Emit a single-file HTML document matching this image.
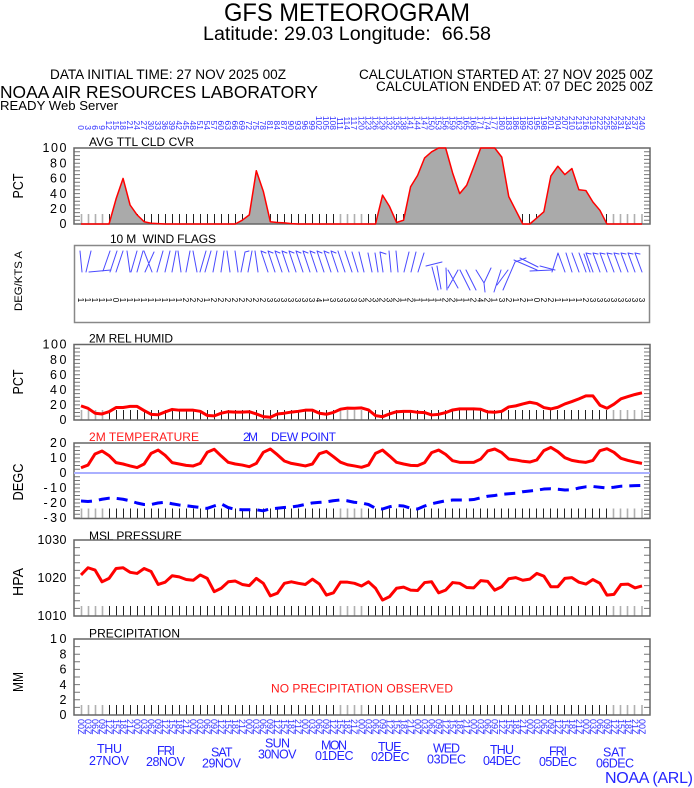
<!DOCTYPE html>
<html><head><meta charset="utf-8"><style>html,body{margin:0;padding:0;background:#fff}svg{display:block}</style></head>
<body>
<svg width="694" height="788" viewBox="0 0 694 788" xmlns="http://www.w3.org/2000/svg" font-family="'Liberation Sans', Arial, sans-serif">
<rect width="694" height="788" fill="#fff"/>
<defs>
<g id="tk" stroke-width="1">
<path stroke="#222" d="M109.5 0v-10M116.5 0v-10M123.5 0v-10M130.5 0v-10M137.5 0v-10M144.5 0v-10M151.5 0v-10M158.5 0v-10M165.5 0v-10M172.5 0v-10M179.5 0v-10M186.5 0v-10M193.5 0v-10M200.5 0v-10M207.5 0v-10M214.5 0v-10M221.5 0v-10M228.5 0v-10M235.5 0v-10M242.5 0v-10M249.5 0v-10M256.5 0v-10M263.5 0v-10M270.5 0v-10M277.5 0v-10M284.5 0v-10M291.5 0v-10M298.5 0v-10M305.5 0v-10M312.5 0v-10M319.5 0v-10M326.5 0v-10M333.5 0v-10M368.5 0v-10M375.5 0v-10M382.5 0v-10M389.5 0v-10M396.5 0v-10M403.5 0v-10M410.5 0v-10M417.5 0v-10M424.5 0v-10M431.5 0v-10M438.5 0v-10M445.5 0v-10M452.5 0v-10M459.5 0v-10M466.5 0v-10M473.5 0v-10M480.5 0v-10M487.5 0v-10M494.5 0v-10M501.5 0v-10M508.5 0v-10M515.5 0v-10M522.5 0v-10M529.5 0v-10M536.5 0v-10M543.5 0v-10M550.5 0v-10M557.5 0v-10M564.5 0v-10M571.5 0v-10M578.5 0v-10M585.5 0v-10M592.5 0v-10M599.5 0v-10M606.5 0v-10"/>
<path stroke="#b0b0b0" stroke-width="1.6" d="M81.5 0v-10M88.5 0v-10M95.5 0v-10M102.5 0v-10M340.5 0v-10M347.5 0v-10M354.5 0v-10M361.5 0v-10M613.5 0v-10M620.5 0v-10M627.5 0v-10M634.5 0v-10M642 0v-10"/>
</g>
</defs>

<!-- Header -->
<text x="224" y="21" font-size="25" textLength="246" lengthAdjust="spacingAndGlyphs">GFS METEOROGRAM</text>
<text x="203" y="40" font-size="19" textLength="288" lengthAdjust="spacingAndGlyphs">Latitude: 29.03 Longitude:&#160;&#160;66.58</text>
<text x="50" y="79" font-size="13.5" textLength="236" lengthAdjust="spacingAndGlyphs">DATA INITIAL TIME: 27 NOV 2025 00Z</text>
<text x="359" y="79" font-size="13.5" textLength="294" lengthAdjust="spacingAndGlyphs">CALCULATION STARTED AT: 27 NOV 2025 00Z</text>
<text x="376" y="91" font-size="13.5" textLength="277" lengthAdjust="spacingAndGlyphs">CALCULATION ENDED AT: 07 DEC 2025 00Z</text>
<text x="0" y="98" font-size="17.5" textLength="318" lengthAdjust="spacingAndGlyphs">NOAA AIR RESOURCES LABORATORY</text>
<text x="0" y="110" font-size="13" textLength="118" lengthAdjust="spacingAndGlyphs">READY Web Server</text>

<!-- Top hour labels -->
<g font-size="8.5" fill="#3030ff" text-anchor="end">
<text transform="translate(78,130)rotate(90)">0</text><text transform="translate(85,130)rotate(90)">3</text><text transform="translate(92,130)rotate(90)">6</text><text transform="translate(99,130)rotate(90)">9</text><text transform="translate(106,130)rotate(90)">12</text><text transform="translate(113,130)rotate(90)">15</text><text transform="translate(120,130)rotate(90)">18</text><text transform="translate(127,130)rotate(90)">21</text><text transform="translate(134,130)rotate(90)">24</text><text transform="translate(141,130)rotate(90)">27</text><text transform="translate(148,130)rotate(90)">30</text><text transform="translate(155,130)rotate(90)">33</text><text transform="translate(162,130)rotate(90)">36</text><text transform="translate(169,130)rotate(90)">39</text><text transform="translate(176,130)rotate(90)">42</text><text transform="translate(183,130)rotate(90)">45</text><text transform="translate(190,130)rotate(90)">48</text><text transform="translate(197,130)rotate(90)">51</text><text transform="translate(204,130)rotate(90)">54</text><text transform="translate(211,130)rotate(90)">57</text><text transform="translate(218,130)rotate(90)">60</text><text transform="translate(225,130)rotate(90)">63</text><text transform="translate(232,130)rotate(90)">66</text><text transform="translate(239,130)rotate(90)">69</text><text transform="translate(246,130)rotate(90)">72</text><text transform="translate(253,130)rotate(90)">75</text><text transform="translate(260,130)rotate(90)">78</text><text transform="translate(267,130)rotate(90)">81</text><text transform="translate(274,130)rotate(90)">84</text><text transform="translate(281,130)rotate(90)">87</text><text transform="translate(288,130)rotate(90)">90</text><text transform="translate(295,130)rotate(90)">93</text><text transform="translate(302,130)rotate(90)">96</text><text transform="translate(309,130)rotate(90)">99</text><text transform="translate(316,130)rotate(90)">102</text><text transform="translate(323,130)rotate(90)">105</text><text transform="translate(330,130)rotate(90)">108</text><text transform="translate(337,130)rotate(90)">111</text><text transform="translate(344,130)rotate(90)">114</text><text transform="translate(351,130)rotate(90)">117</text><text transform="translate(358.5,130)rotate(90)">120</text><text transform="translate(365.5,130)rotate(90)">123</text><text transform="translate(372.5,130)rotate(90)">126</text><text transform="translate(379.5,130)rotate(90)">129</text><text transform="translate(386.5,130)rotate(90)">132</text><text transform="translate(393.6,130)rotate(90)">135</text><text transform="translate(400.6,130)rotate(90)">138</text><text transform="translate(407.6,130)rotate(90)">141</text><text transform="translate(414.6,130)rotate(90)">144</text><text transform="translate(421.6,130)rotate(90)">147</text><text transform="translate(428.6,130)rotate(90)">150</text><text transform="translate(435.6,130)rotate(90)">153</text><text transform="translate(442.7,130)rotate(90)">156</text><text transform="translate(449.7,130)rotate(90)">159</text><text transform="translate(456.7,130)rotate(90)">162</text><text transform="translate(463.7,130)rotate(90)">165</text><text transform="translate(470.7,130)rotate(90)">168</text><text transform="translate(477.7,130)rotate(90)">171</text><text transform="translate(484.7,130)rotate(90)">174</text><text transform="translate(491.7,130)rotate(90)">177</text><text transform="translate(498.8,130)rotate(90)">180</text><text transform="translate(505.8,130)rotate(90)">183</text><text transform="translate(512.8,130)rotate(90)">186</text><text transform="translate(519.8,130)rotate(90)">189</text><text transform="translate(526.8,130)rotate(90)">192</text><text transform="translate(533.8,130)rotate(90)">195</text><text transform="translate(540.8,130)rotate(90)">198</text><text transform="translate(547.8,130)rotate(90)">201</text><text transform="translate(554.9,130)rotate(90)">204</text><text transform="translate(561.9,130)rotate(90)">207</text><text transform="translate(568.9,130)rotate(90)">210</text><text transform="translate(575.9,130)rotate(90)">213</text><text transform="translate(582.9,130)rotate(90)">216</text><text transform="translate(589.9,130)rotate(90)">219</text><text transform="translate(596.9,130)rotate(90)">222</text><text transform="translate(603.9,130)rotate(90)">225</text><text transform="translate(611,130)rotate(90)">228</text><text transform="translate(618,130)rotate(90)">231</text><text transform="translate(625,130)rotate(90)">234</text><text transform="translate(632,130)rotate(90)">237</text><text transform="translate(639,130)rotate(90)">240</text>
</g>

<!-- Y axis titles -->
<g font-size="15" text-anchor="middle">
<text transform="translate(23,186)rotate(-90)" textLength="25" lengthAdjust="spacingAndGlyphs">PCT</text>
<text transform="translate(22,281)rotate(-90)" font-size="11" textLength="60" lengthAdjust="spacingAndGlyphs">DEG/KTS A</text>
<text transform="translate(23,382)rotate(-90)" textLength="25" lengthAdjust="spacingAndGlyphs">PCT</text>
<text transform="translate(23,482)rotate(-90)" textLength="37" lengthAdjust="spacingAndGlyphs">DEGC</text>
<text transform="translate(23,582)rotate(-90)" textLength="28" lengthAdjust="spacingAndGlyphs">HPA</text>
<text transform="translate(23,682)rotate(-90)" textLength="20" lengthAdjust="spacingAndGlyphs">MM</text>
</g>

<!-- Y tick labels -->
<g font-size="12.5" text-anchor="end" lengthAdjust="spacingAndGlyphs">
<text x="66.5" y="152.2" textLength="24">100</text><text x="66.5" y="167.4" textLength="16.5">80</text><text x="66.5" y="182.6" textLength="16.5">60</text><text x="66.5" y="197.8" textLength="16.5">40</text><text x="66.5" y="213" textLength="16.5">20</text><text x="66.5" y="228.2" textLength="8.5">0</text>
<text x="66.5" y="348.7" textLength="24">100</text><text x="66.5" y="363.8" textLength="16.5">80</text><text x="66.5" y="378.9" textLength="16.5">60</text><text x="66.5" y="394" textLength="16.5">40</text><text x="66.5" y="409.1" textLength="16.5">20</text><text x="66.5" y="424.2" textLength="8.5">0</text>
<text x="66.5" y="447.2" textLength="16.5">20</text><text x="66.5" y="462.2" textLength="16.5">10</text><text x="66.5" y="477.2" textLength="8.5">0</text><text x="66.5" y="492.2" textLength="23">-10</text><text x="66.5" y="507.2" textLength="23">-20</text><text x="66.5" y="522.2" textLength="23">-30</text>
<text x="66.5" y="544.2" textLength="29">1030</text><text x="66.5" y="582.2" textLength="29">1020</text><text x="66.5" y="620.2" textLength="29">1010</text>
<text x="66.5" y="643.2" textLength="16.5">10</text><text x="66.5" y="658.4" textLength="8.5">8</text><text x="66.5" y="673.6" textLength="8.5">6</text><text x="66.5" y="688.8" textLength="8.5">4</text><text x="66.5" y="704" textLength="8.5">2</text><text x="66.5" y="719.2" textLength="8.5">0</text>
</g>

<!-- Panel titles -->
<g font-size="12" lengthAdjust="spacingAndGlyphs">
<text x="89" y="146" textLength="105">AVG TTL CLD CVR</text>
<text x="110" y="243" textLength="106">10 M&#160;&#160;WIND FLAGS</text>
<text x="89" y="342.7" textLength="84">2M REL HUMID</text>
<text x="89" y="441" textLength="110" fill="#ff1a1a">2M TEMPERATURE</text>
<text x="243" y="441" textLength="15" fill="#2222ff">2M</text>
<text x="271" y="441" textLength="65" fill="#2222ff">DEW POINT</text>
<text x="89" y="540" textLength="93">MSL PRESSURE</text>
<text x="89" y="637.7" textLength="91">PRECIPITATION</text>
<text x="271" y="692.7" textLength="182" fill="#ff1a1a">NO PRECIPITATION OBSERVED</text>
</g>

<!-- bottom ticks -->
<use href="#tk" transform="translate(0,224)"/>
<use href="#tk" transform="translate(0,420)"/>
<use href="#tk" transform="translate(0,518.5)"/>
<use href="#tk" transform="translate(0,616)"/>
<use href="#tk" transform="translate(0,715)"/>

<!-- side minor ticks -->
<g stroke="#777" stroke-width="6" fill="none">
<line x1="77" y1="147.5" x2="77" y2="225" stroke-dasharray="1 2.8"/>
<line x1="647" y1="147.5" x2="647" y2="225" stroke-dasharray="1 2.8"/>
<line x1="77" y1="344" x2="77" y2="421" stroke-dasharray="1 2.775"/>
<line x1="647" y1="344" x2="647" y2="421" stroke-dasharray="1 2.775"/>
<line x1="77" y1="442.5" x2="77" y2="519" stroke-dasharray="1 2.75"/>
<line x1="647" y1="442.5" x2="647" y2="519" stroke-dasharray="1 2.75"/>
<line x1="77" y1="539.5" x2="77" y2="617" stroke-dasharray="1 6.6"/>
<line x1="647" y1="539.5" x2="647" y2="617" stroke-dasharray="1 6.6"/>
<line x1="77" y1="638.5" x2="77" y2="716" stroke-dasharray="1 6.6"/>
<line x1="647" y1="638.5" x2="647" y2="716" stroke-dasharray="1 6.6"/>
</g>

<!-- Cloud panel data -->
<g transform="translate(81,224) scale(7.0125,-0.76)">
<polygon fill="#aaaaaa" points="0,0 1,0 2,0 3,0 4,0 5,33 6,60 7,25 8,12 9,3 10,1 11,0.5 12,0 22,0 23,5 24,12 25,70 26,43 27,3 28,2 29,1.5 30,0.5 31,0 42,0 43,38 44,23 45,2 46,5 47,49 48,64 49,87 50,95 51,100 52,100 53,67 54,40 55,51 56,75 57,100 58,100 59,100 60,88 61,36 62,18 63,0 64,0 65,8 66,16 67,63 68,76 69,65 70,73 71,45 72,44 73,29 74,18 75,0 80,0"/>
</g>

<!-- Frames -->
<g fill="none" stroke="#666" stroke-width="1.5">
<path d="M74 148H650V224H74Z"/>
<rect x="74.5" y="245.5" width="575" height="77" stroke="#888"/>
<path d="M74 344.5H650V420H74Z"/>
<path d="M74 443H650V518.5H74Z"/>
<path d="M74 540H650V616H74Z"/>
<path d="M74 639H650V715H74Z"/>
</g>

<g transform="translate(81,224) scale(7.0125,-0.76)">
<polyline fill="none" stroke="#ff0000" stroke-width="1.5" vector-effect="non-scaling-stroke" stroke-linejoin="round" points="0,0 1,0 2,0 3,0 4,0 5,33 6,60 7,25 8,12 9,3 10,1 11,0.5 12,0 22,0 23,5 24,12 25,70 26,43 27,3 28,2 29,1.5 30,0.5 31,0 42,0 43,38 44,23 45,2 46,5 47,49 48,64 49,87 50,95 51,100 52,100 53,67 54,40 55,51 56,75 57,100 58,100 59,100 60,88 61,36 62,18 63,0 64,0 65,8 66,16 67,63 68,76 69,65 70,73 71,45 72,44 73,29 74,18 75,0 80,0"/>
</g>

<!-- Wind barbs -->
<g stroke="#4a4aff" stroke-width="1" fill="none" stroke-linecap="round">
<path d="M82 272L80 251M86 272L91 251M89 272L111 270M103 271L110 251M110 272L117 251M116 272L123 251M127 251L130 272M131 272L137 251M137 272L143 251M144 251L152 272M145 272L154 252M157 272L163 251M165 272L170 251M172 272L176 251M178 251L181 272M186 272L190 251M193 251L197 272M200 272L206 251M205 272L211 251M213 272L217 251M221 272L224 251M227 251L230 272M235 251L238 272M241 272L245 252l4 -1M248 272L252 251M255 251L258 272"/>
<path d="M261 251L268 272M261 251l5 2M268 251L275 272M268 251l5 2M275 251L282 272M275 251l5 2M282 251L289 272M282 251l5 2M289 251L296 272M289 251l5 2M296 251L303 272M296 251l5 2M303 251L310 272M303 251l5 2M310 251L317 272M310 251l5 2M317 251L324 272M317 251l5 2M324 251L331 272M324 251l5 2M331 251L338 272M331 251l5 2M338 251L345 272M345 251L352 272M352 252L358 272M359 252L364 272"/>
<path d="M368 253L372 272M375 253L378 272M380 252L383 272M380 252l6 2M389 251L391 272M396 251L398 272M404 272L409 252M411 272L416 252M418 272L424 253M426 266L442 262M432 267L438 290M437 266L441 289M446 268L447 290M448 270L458 288M458 270L448 288M460 270L470 290M466 270L476 290M476 270L484 283L491 268M484 283L485 292M494 292L501 270M497 285L508 270M503 290L515 262L526 258M514 260L537 270M520 258L538 267M530 271L552 270M540 266L555 270"/>
<path d="M552 272L558 253M558 253L565 272M566 253L572 272M572 253L579 272M579 253L586 272M584 254L590 272M586 253L593 272M586 253l5 1M593 253L600 272M593 253l5 1M600 253L607 272M600 253l5 1M607 253L614 272M607 253l5 1M614 253L621 272M614 253l5 1M621 253L628 272M621 253l5 1M628 253L635 272M628 253l5 1M635 253L642 272M635 253l5 1"/>
</g>

<!-- Wind speed row -->
<g font-size="8" fill="#000" text-anchor="middle">
<text transform="translate(78,300)rotate(90)">1</text><text transform="translate(85,300)rotate(90)">1</text><text transform="translate(92,300)rotate(90)">1</text><text transform="translate(99,300)rotate(90)">1</text><text transform="translate(106,300)rotate(90)">1</text><text transform="translate(113,300)rotate(90)">0</text><text transform="translate(120,300)rotate(90)">1</text><text transform="translate(127,300)rotate(90)">1</text><text transform="translate(134,300)rotate(90)">1</text><text transform="translate(141,300)rotate(90)">1</text><text transform="translate(148,300)rotate(90)">1</text><text transform="translate(155,300)rotate(90)">1</text><text transform="translate(162,300)rotate(90)">1</text><text transform="translate(169,300)rotate(90)">1</text><text transform="translate(176,300)rotate(90)">1</text><text transform="translate(183,300)rotate(90)">2</text><text transform="translate(190,300)rotate(90)">2</text><text transform="translate(197,300)rotate(90)">2</text><text transform="translate(204,300)rotate(90)">1</text><text transform="translate(211,300)rotate(90)">2</text><text transform="translate(218,300)rotate(90)">2</text><text transform="translate(225,300)rotate(90)">2</text><text transform="translate(232,300)rotate(90)">2</text><text transform="translate(239,300)rotate(90)">2</text><text transform="translate(246,300)rotate(90)">2</text><text transform="translate(253,300)rotate(90)">2</text><text transform="translate(260,300)rotate(90)">2</text><text transform="translate(267,300)rotate(90)">3</text><text transform="translate(274,300)rotate(90)">3</text><text transform="translate(281,300)rotate(90)">3</text><text transform="translate(288,300)rotate(90)">3</text><text transform="translate(295,300)rotate(90)">3</text><text transform="translate(302,300)rotate(90)">3</text><text transform="translate(309,300)rotate(90)">3</text><text transform="translate(316,300)rotate(90)">4</text><text transform="translate(323,300)rotate(90)">1</text><text transform="translate(330,300)rotate(90)">3</text><text transform="translate(337,300)rotate(90)">3</text><text transform="translate(344,300)rotate(90)">3</text><text transform="translate(351,300)rotate(90)">3</text><text transform="translate(358.5,300)rotate(90)">3</text><text transform="translate(365.5,300)rotate(90)">2</text><text transform="translate(372.5,300)rotate(90)">3</text><text transform="translate(379.5,300)rotate(90)">2</text><text transform="translate(386.5,300)rotate(90)">3</text><text transform="translate(393.6,300)rotate(90)">2</text><text transform="translate(400.6,300)rotate(90)">1</text><text transform="translate(407.6,300)rotate(90)">2</text><text transform="translate(414.6,300)rotate(90)">1</text><text transform="translate(421.6,300)rotate(90)">1</text><text transform="translate(428.6,300)rotate(90)">1</text><text transform="translate(435.6,300)rotate(90)">1</text><text transform="translate(442.7,300)rotate(90)">2</text><text transform="translate(449.7,300)rotate(90)">2</text><text transform="translate(456.7,300)rotate(90)">1</text><text transform="translate(463.7,300)rotate(90)">1</text><text transform="translate(470.7,300)rotate(90)">2</text><text transform="translate(477.7,300)rotate(90)">4</text><text transform="translate(484.7,300)rotate(90)">2</text><text transform="translate(491.7,300)rotate(90)">1</text><text transform="translate(498.8,300)rotate(90)">3</text><text transform="translate(505.8,300)rotate(90)">2</text><text transform="translate(512.8,300)rotate(90)">1</text><text transform="translate(519.8,300)rotate(90)">2</text><text transform="translate(526.8,300)rotate(90)">1</text><text transform="translate(533.8,300)rotate(90)">0</text><text transform="translate(540.8,300)rotate(90)">2</text><text transform="translate(547.8,300)rotate(90)">2</text><text transform="translate(554.9,300)rotate(90)">1</text><text transform="translate(561.9,300)rotate(90)">1</text><text transform="translate(568.9,300)rotate(90)">1</text><text transform="translate(575.9,300)rotate(90)">1</text><text transform="translate(582.9,300)rotate(90)">2</text><text transform="translate(589.9,300)rotate(90)">3</text><text transform="translate(596.9,300)rotate(90)">3</text><text transform="translate(603.9,300)rotate(90)">3</text><text transform="translate(611,300)rotate(90)">3</text><text transform="translate(618,300)rotate(90)">3</text><text transform="translate(625,300)rotate(90)">3</text><text transform="translate(632,300)rotate(90)">3</text><text transform="translate(639,300)rotate(90)">3</text>
</g>

<!-- RH -->
<g transform="translate(81,420) scale(7.0125,-0.755)">
<polyline fill="none" stroke="#ff0000" stroke-width="3" vector-effect="non-scaling-stroke" stroke-linejoin="round" points="0,18.7 1,15.5 2,9 3,8 4,11 5,16.5 6,16.5 7,18 8,18 9,12.5 10,7.5 11,7 12,10.7 13,14 14,13 15,13 16,13 17,11.5 18,6 19,5.5 20,9 21,11 22,10.5 23,10.5 24,11 25,8 26,4.5 27,3.6 28,8 29,9 30,10.5 31,11.5 32,13 33,13 34,9 35,7.6 36,10 37,14.3 38,15.7 39,15.5 40,16 41,13.3 42,5.8 43,4.4 44,8 45,11 46,11.5 47,11.5 48,10.2 49,9.8 50,6.7 51,7.5 52,9.8 53,13.3 54,14.7 55,14.7 56,14.7 57,14.2 58,10.7 59,10.2 60,11.5 61,17.3 62,18.7 63,21.3 64,23.5 65,21.8 66,16.5 67,14.7 68,16.9 69,21.3 70,24.4 71,28 72,32 73,32 74,19.6 75,15.5 76,20.9 77,28 78,31 79,33.8 80,36"/>
</g>

<!-- Temperature -->
<line x1="74" y1="473" x2="650" y2="473" stroke="#aab0ff" stroke-width="2"/>
<g transform="translate(81,473) scale(7.0125,-1.5)">
<polyline fill="none" stroke="#ff0000" stroke-width="3" vector-effect="non-scaling-stroke" stroke-linejoin="round" points="0,3.5 1,5.3 2,12.7 3,14.7 4,11.6 5,6.9 6,6 7,4.7 8,3.6 9,6 10,13.1 11,15.3 12,11.8 13,6.9 14,6 15,5.1 16,4.7 17,6.4 18,13.8 19,15.8 20,11.3 21,7.1 22,6 23,5.3 24,4.2 25,6.4 26,13.8 27,16 28,12.2 29,8 30,6.4 31,5.6 32,4.7 33,6 34,12.9 35,14.4 36,10.9 37,7.2 38,5.5 39,4.7 40,3.8 41,5.3 42,13.1 43,15.3 44,11.3 45,7.1 46,6 47,5.1 48,4.9 49,6.9 50,13.6 51,15.3 52,12.4 53,8.2 54,7.1 55,7.1 56,7.1 57,9.3 58,14.7 59,16 60,13.6 61,9.3 62,8.7 63,7.8 64,7.3 65,8.7 66,14.9 67,17.1 68,14.2 69,10.2 70,8.4 71,7.6 72,7.1 73,8.4 74,14.9 75,16.2 76,13.8 77,9.8 78,8.4 79,7.3 80,6.4"/>
</g>
<polyline fill="none" stroke="#0000ff" stroke-width="3" stroke-dasharray="11 7" stroke-linejoin="round" points="81,501.05 88,501.5 95,500.75 102,499.25 109,498.2 116,498.35 123,499.25 130,500.75 137,503 144,504.5 151,504.5 158,503 165,502.25 172,503.75 179,504.95 186,505.7 193,506.6 200,507.5 207,508.4 214,506 221,503.75 228,507.5 235,509.3 242,509.75 249,509.75 256,509.75 263,510.8 270,509 277,508.25 284,507.5 291,507.05 298,506 305,504.5 312,503 319,502.4 326,501.95 333,500.75 340,500 347,500.75 354,502.25 361.5,503 368.5,504.5 375.5,508.25 382.5,509 389.5,506.75 396.6,505.55 403.6,506 410.6,508.25 417.6,509 424.6,506 431.6,503.75 438.6,502.25 445.7,500.75 452.7,500 459.7,500 466.7,500 473.7,499.55 480.7,497.75 487.7,496.25 494.7,495.5 501.8,494.3 508.8,493.7 515.8,493.25 522.8,491.75 529.8,491 536.8,490.25 543.8,489.05 550.8,488.75 557.9,489.2 564.9,489.95 571.9,489.8 578.9,488 585.9,486.8 592.9,486.5 599.9,487.25 606.9,488 614,487.25 621,486.2 628,485.9 635,485.6 642,485.45"/>

<!-- Pressure -->
<g transform="translate(81,616) scale(7.0125,-3.8)">
<polyline fill="none" stroke="#ff0000" stroke-width="3" vector-effect="non-scaling-stroke" stroke-linejoin="round" points="0,10.8 1,12.7 2,12.1 3,9 4,9.9 5,12.5 6,12.7 7,11.5 8,11.2 9,12.5 10,11.7 11,8.3 12,8.9 13,10.6 14,10.3 15,9.6 16,9.4 17,10.8 18,9.9 19,6.4 20,7.3 21,9 22,9.2 23,8.3 24,8 25,9.9 26,8.6 27,5.3 28,6 29,8.6 30,9 31,8.6 32,8.3 33,9.7 34,8.4 35,5.5 36,6.1 37,8.9 38,8.9 39,8.6 40,7.9 41,9 42,7.3 43,4.2 44,5.1 45,7.3 46,7.6 47,6.8 48,6.7 49,8.8 50,9 51,6.1 52,6.8 53,8.8 54,8.6 55,7.5 56,7.4 57,9.3 58,9.1 59,6.8 60,7.7 61,9.8 62,10.1 63,9.4 64,9.7 65,11.2 66,10.5 67,7.7 68,7.7 69,9.9 70,10.1 71,8.9 72,8.4 73,9.6 74,8.6 75,5.5 76,5.7 77,8.3 78,8.4 79,7.4 80,7.9"/>
</g>

<!-- Bottom time labels -->
<g font-size="9" fill="#3030ff" text-anchor="start">
<text transform="translate(78,719)rotate(90)">00Z</text><text transform="translate(85,719)rotate(90)">03Z</text><text transform="translate(92,719)rotate(90)">06Z</text><text transform="translate(99,719)rotate(90)">09Z</text><text transform="translate(106,719)rotate(90)">12Z</text><text transform="translate(113,719)rotate(90)">15Z</text><text transform="translate(120,719)rotate(90)">18Z</text><text transform="translate(127,719)rotate(90)">21Z</text><text transform="translate(134,719)rotate(90)">00Z</text><text transform="translate(141,719)rotate(90)">03Z</text><text transform="translate(148,719)rotate(90)">06Z</text><text transform="translate(155,719)rotate(90)">09Z</text><text transform="translate(162,719)rotate(90)">12Z</text><text transform="translate(169,719)rotate(90)">15Z</text><text transform="translate(176,719)rotate(90)">18Z</text><text transform="translate(183,719)rotate(90)">21Z</text><text transform="translate(190,719)rotate(90)">00Z</text><text transform="translate(197,719)rotate(90)">03Z</text><text transform="translate(204,719)rotate(90)">06Z</text><text transform="translate(211,719)rotate(90)">09Z</text><text transform="translate(218,719)rotate(90)">12Z</text><text transform="translate(225,719)rotate(90)">15Z</text><text transform="translate(232,719)rotate(90)">18Z</text><text transform="translate(239,719)rotate(90)">21Z</text><text transform="translate(246,719)rotate(90)">00Z</text><text transform="translate(253,719)rotate(90)">03Z</text><text transform="translate(260,719)rotate(90)">06Z</text><text transform="translate(267,719)rotate(90)">09Z</text><text transform="translate(274,719)rotate(90)">12Z</text><text transform="translate(281,719)rotate(90)">15Z</text><text transform="translate(288,719)rotate(90)">18Z</text><text transform="translate(295,719)rotate(90)">21Z</text><text transform="translate(302,719)rotate(90)">00Z</text><text transform="translate(309,719)rotate(90)">03Z</text><text transform="translate(316,719)rotate(90)">06Z</text><text transform="translate(323,719)rotate(90)">09Z</text><text transform="translate(330,719)rotate(90)">12Z</text><text transform="translate(337,719)rotate(90)">15Z</text><text transform="translate(344,719)rotate(90)">18Z</text><text transform="translate(351,719)rotate(90)">21Z</text><text transform="translate(358.5,719)rotate(90)">00Z</text><text transform="translate(365.5,719)rotate(90)">03Z</text><text transform="translate(372.5,719)rotate(90)">06Z</text><text transform="translate(379.5,719)rotate(90)">09Z</text><text transform="translate(386.5,719)rotate(90)">12Z</text><text transform="translate(393.6,719)rotate(90)">15Z</text><text transform="translate(400.6,719)rotate(90)">18Z</text><text transform="translate(407.6,719)rotate(90)">21Z</text><text transform="translate(414.6,719)rotate(90)">00Z</text><text transform="translate(421.6,719)rotate(90)">03Z</text><text transform="translate(428.6,719)rotate(90)">06Z</text><text transform="translate(435.6,719)rotate(90)">09Z</text><text transform="translate(442.7,719)rotate(90)">12Z</text><text transform="translate(449.7,719)rotate(90)">15Z</text><text transform="translate(456.7,719)rotate(90)">18Z</text><text transform="translate(463.7,719)rotate(90)">21Z</text><text transform="translate(470.7,719)rotate(90)">00Z</text><text transform="translate(477.7,719)rotate(90)">03Z</text><text transform="translate(484.7,719)rotate(90)">06Z</text><text transform="translate(491.7,719)rotate(90)">09Z</text><text transform="translate(498.8,719)rotate(90)">12Z</text><text transform="translate(505.8,719)rotate(90)">15Z</text><text transform="translate(512.8,719)rotate(90)">18Z</text><text transform="translate(519.8,719)rotate(90)">21Z</text><text transform="translate(526.8,719)rotate(90)">00Z</text><text transform="translate(533.8,719)rotate(90)">03Z</text><text transform="translate(540.8,719)rotate(90)">06Z</text><text transform="translate(547.8,719)rotate(90)">09Z</text><text transform="translate(554.9,719)rotate(90)">12Z</text><text transform="translate(561.9,719)rotate(90)">15Z</text><text transform="translate(568.9,719)rotate(90)">18Z</text><text transform="translate(575.9,719)rotate(90)">21Z</text><text transform="translate(582.9,719)rotate(90)">00Z</text><text transform="translate(589.9,719)rotate(90)">03Z</text><text transform="translate(596.9,719)rotate(90)">06Z</text><text transform="translate(603.9,719)rotate(90)">09Z</text><text transform="translate(611,719)rotate(90)">12Z</text><text transform="translate(618,719)rotate(90)">15Z</text><text transform="translate(625,719)rotate(90)">18Z</text><text transform="translate(632,719)rotate(90)">21Z</text><text transform="translate(639,719)rotate(90)">00Z</text>
</g>

<!-- Day labels -->
<g font-size="12.5" fill="#2525ff" lengthAdjust="spacingAndGlyphs">
<text x="97" y="753" textLength="25">THU</text><text x="89" y="765" textLength="40">27NOV</text>
<text x="157" y="755" textLength="18">FRI</text><text x="146" y="766" textLength="39">28NOV</text>
<text x="211" y="756.7" textLength="21.5">SAT</text><text x="202" y="767.3" textLength="39">29NOV</text>
<text x="265" y="747.3" textLength="25">SUN</text><text x="258" y="758.3" textLength="38.5">30NOV</text>
<text x="321" y="749.3" textLength="26">MON</text><text x="315" y="760" textLength="38.5">01DEC</text>
<text x="378" y="751" textLength="23.5">TUE</text><text x="371" y="761" textLength="38.5">02DEC</text>
<text x="433" y="752.7" textLength="27">WED</text><text x="427" y="763.3" textLength="39">03DEC</text>
<text x="490" y="754" textLength="24">THU</text><text x="483" y="765" textLength="38">04DEC</text>
<text x="549" y="755.7" textLength="18">FRI</text><text x="539" y="766" textLength="38">05DEC</text>
<text x="603" y="756.7" textLength="23">SAT</text><text x="596" y="767.3" textLength="38">06DEC</text>
<text x="605" y="783" font-size="16" textLength="88">NOAA (ARL)</text>
</g>
</svg>
</body></html>
